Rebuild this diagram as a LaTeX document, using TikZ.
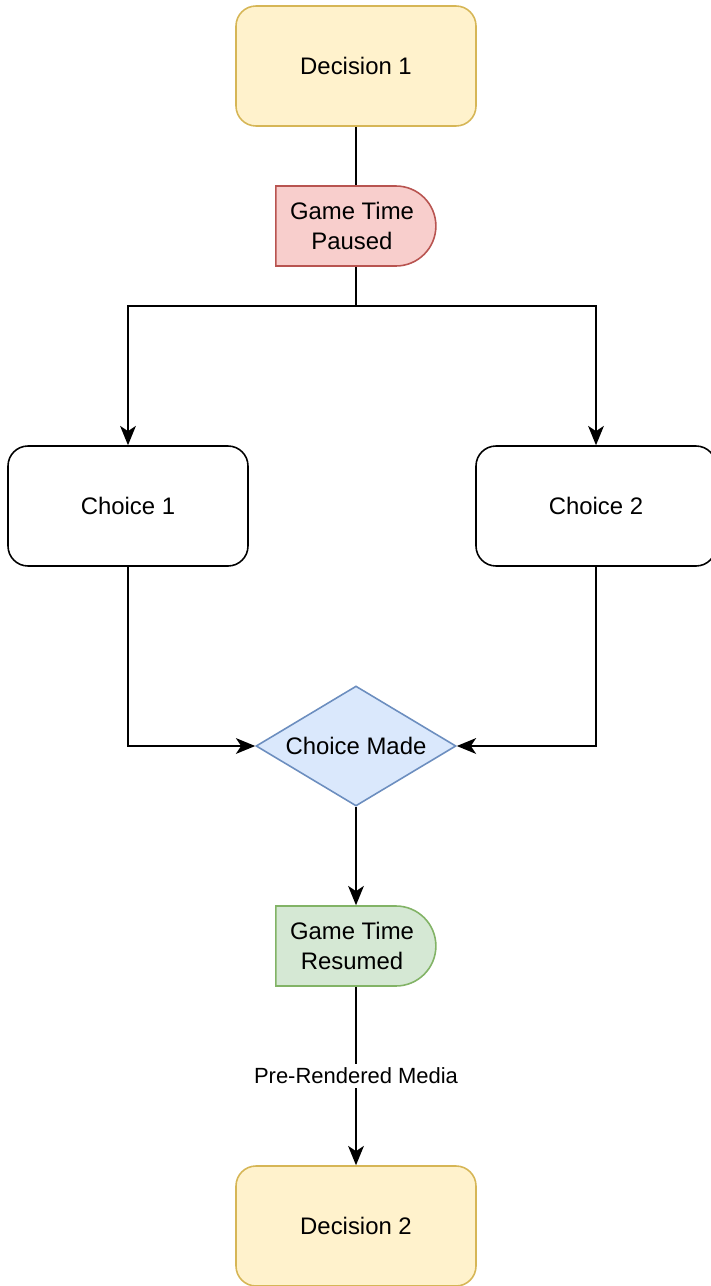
\documentclass[tikz,border=0pt]{standalone}
\usepackage{fontspec}
\setmainfont{Liberation Sans}
\usetikzlibrary{arrows.meta,shapes.geometric,shapes.misc}
\definecolor{yelfill}{HTML}{FFF2CC}
\definecolor{yeldraw}{HTML}{D6B656}
\definecolor{redfill}{HTML}{F8CECC}
\definecolor{reddraw}{HTML}{B85450}
\definecolor{bluefill}{HTML}{DAE8FC}
\definecolor{bluedraw}{HTML}{6C8EBF}
\definecolor{grnfill}{HTML}{D5E8D4}
\definecolor{grndraw}{HTML}{82B366}
\begin{document}
\begin{tikzpicture}[
    font=\fontsize{13.6}{17}\selectfont,
    box/.style={rectangle, rounded corners=0.4cm, draw, line width=0.9pt,
      minimum width=4.8cm, minimum height=2.4cm, align=center},
    decision/.style={box, fill=yelfill, draw=yeldraw},
    choice/.style={box, fill=white, draw=black},
    delay/.style={rounded rectangle, rounded rectangle west arc=none, draw,
      line width=0.9pt, minimum width=3.2cm, minimum height=1.6cm,
      inner sep=0pt, align=center},
    made/.style={diamond, draw=bluedraw, fill=bluefill, line width=0.9pt,
      minimum width=4cm, minimum height=2.4cm, inner sep=0pt, shape aspect=1.667},
    edgelabel/.style={fill=white, inner sep=2pt, font=\fontsize{12.5}{15}\selectfont},
    flow/.style={line width=0.9pt, -{Stealth[length=11pt,width=9pt,inset=3pt]}}
  ]
  \useasboundingbox (0,0) rectangle (14.2,-25.72);
  \node[decision] (dec1) at (7.12,-1.32) {Decision 1};
  \node[delay, fill=redfill, draw=reddraw] (paused) at (7.04,-4.52) {Game Time\\Paused};
  \coordinate (split) at (7.12,-6.12);
  \node[choice] (ch1) at (2.56,-10.12) {Choice 1};
  \node[choice] (ch2) at (11.92,-10.12) {Choice 2};
  \node[made] (made) at (7.12,-14.92) {Choice Made};
  \node[delay, fill=grnfill, draw=grndraw] (resumed) at (7.04,-18.92) {Game Time\\Resumed};
  \node[decision] (dec2) at (7.12,-24.52) {Decision 2};
  \begin{scope}[flow]
    \draw[-] (dec1) -- (dec1 |- paused.north);
    \draw[-] (split |- paused.south) -- (split);
    \draw (split) -| (ch1);
    \draw (split) -| (ch2);
    \draw (ch1) |- (made);
    \draw (ch2) |- (made);
    \draw (made) -- (made |- resumed.north);
    \draw (made |- resumed.south) -- node[edgelabel] (media) {Pre-Rendered Media} (dec2);
  \end{scope}
\end{tikzpicture}
\end{document}
